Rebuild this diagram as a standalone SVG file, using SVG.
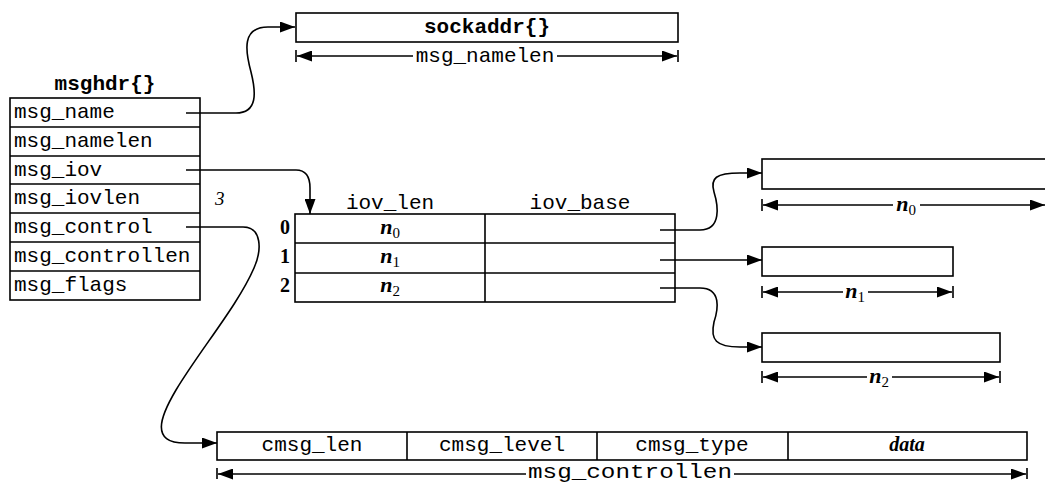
<svg xmlns="http://www.w3.org/2000/svg" width="1045" height="483" viewBox="0 0 1045 483">
<style>
.box{fill:#fff;stroke:#000;stroke-width:1.6}
.ln{fill:none;stroke:#000;stroke-width:1.6}
.mono{font-family:"Liberation Mono","Courier New",monospace;font-size:21px;fill:#000}
.b{font-weight:bold}
.mid{text-anchor:middle}
.ser{font-family:"Liberation Serif","Times New Roman",serif;fill:#000}
.it{font-style:italic}
.sub{font-style:normal;font-weight:normal;font-size:15px}
</style>
<defs>
<marker id="ah" markerWidth="15" markerHeight="11" refX="15" refY="5.5" orient="auto-start-reverse" markerUnits="userSpaceOnUse">
<path d="M0,0 L15,5.5 L0,11 z" fill="#000"/>
</marker>
</defs>

<g id="msghdr">
<text class="mono b mid" x="105" y="90">msghdr{}</text>
<rect class="box" x="10" y="98" width="190" height="202"/>
<path class="ln" d="M10,127H200M10,156H200M10,184H200M10,213H200M10,242H200M10,271H200"/>
<text class="mono" x="14" y="118">msg_name</text>
<text class="mono" x="14" y="147">msg_namelen</text>
<text class="mono" x="14" y="176">msg_iov</text>
<text class="mono" x="14" y="204">msg_iovlen</text>
<text class="mono" x="14" y="233">msg_control</text>
<text class="mono" x="14" y="262">msg_controllen</text>
<text class="mono" x="14" y="291">msg_flags</text>
<text class="ser it" x="215" y="205" font-size="19">3</text>
</g>

<g id="sockaddr">
<rect class="box" x="296" y="13" width="382" height="29"/>
<text class="mono b mid" x="487" y="33">sockaddr{}</text>
<path class="ln" d="M296,50V62M678,50V62"/>
<path class="ln" d="M297,56H413" marker-start="url(#ah)"/>
<path class="ln" d="M557,56H677" marker-end="url(#ah)"/>
<text class="mono mid" x="485" y="62">msg_namelen</text>
</g>

<g id="iovec">
<text class="mono mid" x="390" y="209">iov_len</text>
<text class="mono mid" x="580" y="209">iov_base</text>
<rect class="box" x="295" y="214" width="380" height="88"/>
<path class="ln" d="M295,243H675M295,273H675M485,214V302"/>
<text class="ser b" x="290" y="234" font-size="20" text-anchor="end">0</text>
<text class="ser b" x="290" y="263" font-size="20" text-anchor="end">1</text>
<text class="ser b" x="290" y="292" font-size="20" text-anchor="end">2</text>
<text class="ser it b mid" x="390" y="234" font-size="22">n<tspan class="sub" dy="4">0</tspan></text>
<text class="ser it b mid" x="390" y="263" font-size="22">n<tspan class="sub" dy="4">1</tspan></text>
<text class="ser it b mid" x="390" y="292" font-size="22">n<tspan class="sub" dy="4">2</tspan></text>
</g>

<g id="buf0">
<rect class="box" x="762" y="159" width="300" height="30"/>
<path class="ln" d="M762,199V211"/>
<path class="ln" d="M763,205H893" marker-start="url(#ah)"/>
<path class="ln" d="M920,205H1045" marker-end="url(#ah)"/>
<text class="ser it b mid" x="906" y="211" font-size="22">n<tspan class="sub" dy="4">0</tspan></text>
</g>

<g id="buf1">
<rect class="box" x="762" y="247" width="191" height="29"/>
<path class="ln" d="M762,286V298M953,286V298"/>
<path class="ln" d="M763,292H843" marker-start="url(#ah)"/>
<path class="ln" d="M868,292H952" marker-end="url(#ah)"/>
<text class="ser it b mid" x="855" y="298" font-size="22">n<tspan class="sub" dy="4">1</tspan></text>
</g>

<g id="buf2">
<rect class="box" x="762" y="333" width="238" height="29"/>
<path class="ln" d="M762,371V383M1000,371V383"/>
<path class="ln" d="M763,377H867" marker-start="url(#ah)"/>
<path class="ln" d="M892,377H999" marker-end="url(#ah)"/>
<text class="ser it b mid" x="879" y="383" font-size="22">n<tspan class="sub" dy="4">2</tspan></text>
</g>

<g id="cmsghdr">
<rect class="box" x="217" y="432" width="810" height="28"/>
<path class="ln" d="M407,432V460M597,432V460M788,432V460"/>
<text class="mono mid" x="312" y="451">cmsg_len</text>
<text class="mono mid" x="502" y="451">cmsg_level</text>
<text class="mono mid" x="692" y="451">cmsg_type</text>
<text class="ser it b mid" x="907" y="451" font-size="20">data</text>
<path class="ln" d="M217,468V479M1027,468V479"/>
<path class="ln" d="M218,474H526" marker-start="url(#ah)"/>
<path class="ln" d="M734,474H1026" marker-end="url(#ah)"/>
<text class="mono mid" x="630" y="478" font-size="20" textLength="204" lengthAdjust="spacingAndGlyphs">msg_controllen</text>
</g>

<g id="connectors">
<path class="ln" d="M186,113H236C258,113 256,92 251,72C245,50 242,27 268,27H295" marker-end="url(#ah)"/>
<path class="ln" d="M186,170H296C306,170 310,176 310,188V214" marker-end="url(#ah)"/>
<path class="ln" d="M186,227H243C262,227 262,250 254,268C238,305 200,350 176,390C160,417 150,443 185,443H217" marker-end="url(#ah)"/>
<path class="ln" d="M660,230H700C722,230 718,205 714,192C710,178 716,173 740,173H762" marker-end="url(#ah)"/>
<path class="ln" d="M660,260H762" marker-end="url(#ah)"/>
<path class="ln" d="M660,288H700C722,288 718,310 714,322C710,340 716,347 740,347H762" marker-end="url(#ah)"/>
</g>
</svg>
